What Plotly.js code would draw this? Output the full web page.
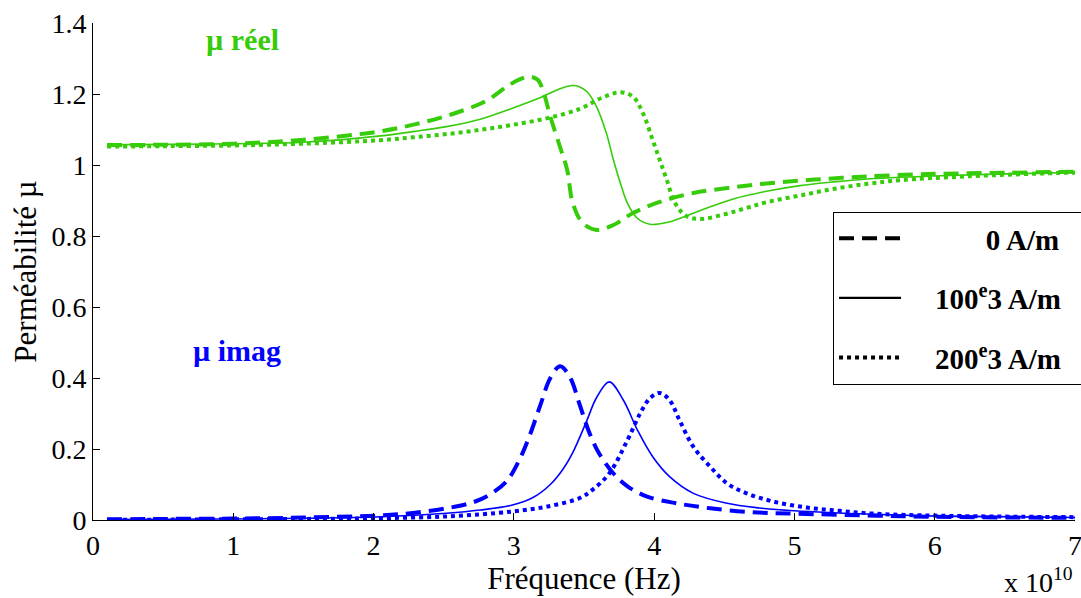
<!DOCTYPE html>
<html>
<head>
<meta charset="utf-8">
<script src="https://cdn.plot.ly/plotly-3.0.1.min.js"></script>
<style>
  html, body { margin: 0; padding: 0; background: #ffffff; }
  #chart { width: 1081px; height: 598px; }
</style>
</head>
<body>
<div id="chart"></div>
<script>
// ---------------- data (frequency in units of 1e10 Hz) ----------------
// Real part of permeability, H = 0 A/m (dashed)
const reelX0   = [0.1, 0.5, 1.0, 1.5, 2.05, 2.3, 2.55, 2.8, 2.95, 3.04, 3.11, 3.17, 3.21, 3.26, 3.33, 3.38, 3.42, 3.49, 3.59, 3.71, 3.85, 4.04, 4.28, 4.56, 4.8, 5.04, 5.27, 5.52, 6.0, 6.5, 7.0];
const reelY0   = [1.056, 1.057, 1.06, 1.071, 1.095, 1.115, 1.142, 1.18, 1.221, 1.241, 1.249, 1.24, 1.207, 1.136, 1.05, 0.986, 0.893, 0.837, 0.817, 0.831, 0.865, 0.896, 0.921, 0.937, 0.948, 0.956, 0.962, 0.968, 0.975, 0.978, 0.981];
// Real part, H = 100e3 A/m (solid)
const reelX100 = [0.1, 0.5, 1.0, 1.5, 2.05, 2.28, 2.52, 2.76, 2.99, 3.19, 3.33, 3.42, 3.47, 3.52, 3.59, 3.66, 3.71, 3.76, 3.81, 3.88, 3.97, 4.09, 4.2, 4.33, 4.57, 4.8, 5.04, 5.27, 5.5, 6.0, 6.5, 7.0];
const reelY100 = [1.057, 1.058, 1.06, 1.064, 1.082, 1.094, 1.108, 1.129, 1.16, 1.19, 1.215, 1.224, 1.22, 1.207, 1.164, 1.089, 1.014, 0.948, 0.892, 0.85, 0.833, 0.838, 0.852, 0.872, 0.905, 0.926, 0.942, 0.952, 0.96, 0.969, 0.975, 0.979];
// Real part, H = 200e3 A/m (dotted)
const reelX200 = [0.1, 0.5, 1.0, 1.5, 2.05, 2.28, 2.52, 2.76, 2.99, 3.24, 3.47, 3.62, 3.76, 3.85, 3.92, 3.99, 4.04, 4.09, 4.15, 4.23, 4.33, 4.5, 4.65, 4.8, 5.04, 5.27, 5.52, 5.75, 6.23, 6.94, 7.0];
const reelY200 = [1.052, 1.053, 1.055, 1.06, 1.07, 1.078, 1.087, 1.099, 1.113, 1.132, 1.158, 1.188, 1.205, 1.192, 1.146, 1.07, 1.014, 0.958, 0.892, 0.856, 0.848, 0.861, 0.878, 0.895, 0.914, 0.932, 0.947, 0.957, 0.968, 0.978, 0.978];

// Imaginary part, H = 0 A/m (dashed)
const imagX0   = [0.1, 0.5, 1.0, 1.5, 2.05, 2.28, 2.52, 2.71, 2.83, 2.95, 3.04, 3.11, 3.19, 3.26, 3.33, 3.40, 3.47, 3.54, 3.61, 3.71, 3.81, 3.95, 4.16, 4.40, 4.70, 5.0, 5.6, 6.0, 7.0];
const imagY0   = [0.002, 0.003, 0.004, 0.007, 0.013, 0.02, 0.033, 0.05, 0.072, 0.11, 0.17, 0.235, 0.325, 0.4, 0.433, 0.402, 0.324, 0.244, 0.186, 0.131, 0.095, 0.066, 0.047, 0.033, 0.022, 0.018, 0.012, 0.009, 0.006];
// Imaginary part, H = 100e3 A/m (solid)
const imagX100 = [0.1, 0.5, 1.0, 1.5, 2.05, 2.52, 2.76, 2.99, 3.14, 3.26, 3.35, 3.42, 3.52, 3.59, 3.68, 3.78, 3.88, 3.99, 4.11, 4.28, 4.52, 4.75, 5.0, 5.56, 6.04, 7.0];
const imagY100 = [0.001, 0.002, 0.003, 0.005, 0.009, 0.019, 0.028, 0.042, 0.064, 0.1, 0.143, 0.19, 0.28, 0.345, 0.389, 0.338, 0.254, 0.178, 0.122, 0.075, 0.047, 0.034, 0.026, 0.016, 0.011, 0.007];
// Imaginary part, H = 200e3 A/m (dotted)
const imagX200 = [0.1, 0.5, 1.0, 1.5, 2.0, 2.52, 2.99, 3.24, 3.47, 3.56, 3.68, 3.81, 3.90, 3.97, 4.04, 4.11, 4.18, 4.28, 4.40, 4.52, 4.66, 4.85, 5.09, 5.32, 5.56, 6.04, 7.0];
const imagY200 = [0.001, 0.001, 0.002, 0.003, 0.005, 0.01, 0.024, 0.038, 0.062, 0.085, 0.131, 0.225, 0.3, 0.343, 0.358, 0.338, 0.282, 0.206, 0.15, 0.103, 0.075, 0.052, 0.035, 0.026, 0.018, 0.012, 0.008];

// Labels
const legendLabels = ['0 A/m', '100<sup>e</sup>3 A/m', '200<sup>e</sup>3 A/m'];
const xTickVals = [0, 1, 2, 3, 4, 5, 6, 7];
const yTickVals = [0, 0.2, 0.4, 0.6, 0.8, 1, 1.2, 1.4];
const xTitle = 'Fréquence (Hz)';
const yTitle = 'Perméabilité µ';
const labelReel = 'µ réel';
const labelImag = 'µ imag';
const xExponent = 'x 10<sup>10</sup>';

// ---------------- styles ----------------
const GREEN = '#36cc0a';
const BLUE = '#0000ff';
const FONT = '"Liberation Serif", "Times New Roman", serif';
const styles = [
  { dash: '15px,8px', width: 4 },   // 0 A/m
  { dash: 'solid',    width: 1.6 }, // 100e3 A/m
  { dash: '4px,4px',  width: 4 }    // 200e3 A/m
];

const reelSeries = [[reelX0, reelY0], [reelX100, reelY100], [reelX200, reelY200]];
const imagSeries = [[imagX0, imagY0], [imagX100, imagY100], [imagX200, imagY200]];

const traces = [];
reelSeries.forEach((s, i) => traces.push({
  type: 'scatter', mode: 'lines', x: s[0], y: s[1], showlegend: false, hoverinfo: 'skip',
  line: { color: GREEN, width: styles[i].width, dash: styles[i].dash, shape: 'spline', smoothing: 1 }
}));
imagSeries.forEach((s, i) => traces.push({
  type: 'scatter', mode: 'lines', x: s[0], y: s[1], showlegend: false, hoverinfo: 'skip',
  line: { color: BLUE, width: styles[i].width, dash: styles[i].dash, shape: 'spline', smoothing: 1 }
}));
// legend entries (black samples); non-breaking spaces right-align the labels
const NB = '\u00a0';
const pads = [NB.repeat(11), NB.repeat(4), NB.repeat(4)];
legendLabels.forEach((lab, i) => traces.push({
  type: 'scatter', mode: 'lines', x: [null], y: [null], name: pads[i] + lab + NB + NB,
  legendgroup: 'g' + i, showlegend: true,
  line: { color: '#000000', width: styles[i].width === 1.6 ? 2.2 : 4, dash: styles[i].dash }
}));

const layout = {
  width: 1081, height: 598,
  margin: { l: 93, r: 6, t: 23, b: 78, autoexpand: false },
  paper_bgcolor: '#ffffff', plot_bgcolor: '#ffffff',
  font: { family: FONT, color: '#000000', size: 26 },
  showlegend: true,
  legend: {
    x: 0.7536, y: 0.62, xanchor: 'left', yanchor: 'top',
    bgcolor: '#ffffff', bordercolor: '#000000', borderwidth: 1,
    font: { family: FONT, size: 29, color: '#000000', weight: 'bold' },
    itemwidth: 62, tracegroupgap: 19
  },
  xaxis: {
    range: [0, 7], tickvals: xTickVals, ticks: 'inside', ticklen: 7, tickcolor: '#000000',
    showline: true, linecolor: '#000000', linewidth: 1, showgrid: false, zeroline: false,
    ticklabeloverflow: 'allow', automargin: false,
    tickfont: { family: FONT, size: 28, color: '#000000' },
    title: { text: xTitle, font: { family: FONT, size: 31, color: '#000000' }, standoff: 4 }
  },
  yaxis: {
    range: [0, 1.4], tickvals: yTickVals, ticks: 'inside', ticklen: 7, tickcolor: '#000000',
    showline: true, linecolor: '#000000', linewidth: 1, showgrid: false, zeroline: false,
    automargin: false,
    tickfont: { family: FONT, size: 28, color: '#000000' },
    title: { text: yTitle, font: { family: FONT, size: 31, color: '#000000' }, standoff: 5 }
  },
  annotations: [
    { text: labelReel, xref: 'paper', yref: 'paper', x: 0.152, y: 0.966, xanchor: 'center', yanchor: 'middle',
      showarrow: false, font: { family: FONT, size: 30, color: GREEN, weight: 'bold' } },
    { text: labelImag, xref: 'paper', yref: 'paper', x: 0.147, y: 0.342, xanchor: 'center', yanchor: 'middle',
      showarrow: false, font: { family: FONT, size: 30, color: BLUE, weight: 'bold' } },
    { text: xExponent, xref: 'paper', yref: 'paper', x: 1.0, y: -0.122, xanchor: 'right', yanchor: 'middle',
      showarrow: false, font: { family: FONT, size: 28, color: '#000000' } }
  ]
};

Plotly.newPlot('chart', traces, layout, { displayModeBar: false, staticPlot: true });
</script>
</body>
</html>
